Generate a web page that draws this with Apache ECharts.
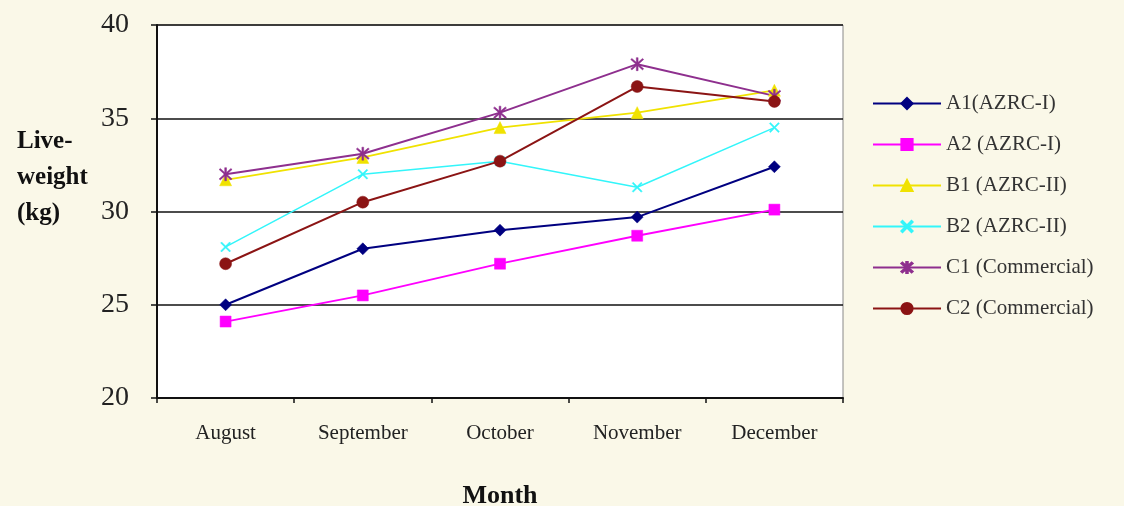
<!DOCTYPE html>
<html><head><meta charset="utf-8">
<script src="https://cdn.jsdelivr.net/npm/echarts@6/dist/echarts.min.js"></script>
<style>html,body{margin:0;padding:0;background:#faf8e8;}#c{width:1124px;height:506px;}</style>
</head><body><div id="c"></div>
<script>
const months = ['August','September','October','November','December'];
const yTicks = [20,25,30,35,40];
const seriesNames = ['A1(AZRC-I)','A2 (AZRC-I)','B1 (AZRC-II)','B2 (AZRC-II)','C1 (Commercial)','C2 (Commercial)'];
const A1 = [25.0, 28.0, 29.0, 29.7, 32.4];
const A2 = [24.1, 25.5, 27.2, 28.7, 30.1];
const B1 = [31.7, 32.9, 34.5, 35.3, 36.5];
const B2 = [28.1, 32.0, 32.7, 31.3, 34.5];
const C1 = [32.0, 33.1, 35.3, 37.9, 36.2];
const C2 = [27.2, 30.5, 32.7, 36.7, 35.9];

const serif = '"Liberation Serif","Times New Roman",serif';
const xPath = 'path://M1,0 L5,4 L9,0 L10,1 L6,5 L10,9 L9,10 L5,6 L1,10 L0,9 L4,5 L0,1 Z';
const starPath = 'path://M4.4,0 L5.6,0 L5.6,3.6 L8.6,0.6 L9.4,1.4 L6.2,4.6 L6.2,5.4 L9.4,8.6 L8.6,9.4 L5.6,6.4 L5.6,10 L4.4,10 L4.4,6.4 L1.4,9.4 L0.6,8.6 L3.8,5.4 L3.8,4.6 L0.6,1.4 L1.4,0.6 L4.4,3.6 Z';

const defs = [
  {data:A1, color:'#000080', symbol:'diamond', size:12, width:2},
  {data:A2, color:'#ff00ff', symbol:'rect', size:11, width:1.8},
  {data:B1, color:'#f0e200', symbol:'triangle', size:12, width:1.8},
  {data:B2, color:'#33f5fa', symbol:xPath, size:10, width:1.5},
  {data:C1, color:'#8e2f8e', symbol:starPath, size:13, width:2},
  {data:C2, color:'#8b1414', symbol:'circle', size:12, width:2}
];

const chart = echarts.init(document.getElementById('c'));
chart.setOption({
  backgroundColor:'#faf8e8',
  animation:false,
  grid:{left:157, top:25, width:686, height:373, containLabel:false, outerBoundsMode:'none',
    show:true, backgroundColor:'#ffffff', borderColor:'#888', borderWidth:1},
  xAxis:{type:'category', data:months, boundaryGap:true,
    axisLine:{lineStyle:{color:'#111', width:2}},
    axisTick:{show:true, length:5, lineStyle:{color:'#111', width:1.5}},
    axisLabel:{color:'#222', fontFamily:serif, fontSize:21, margin:25},
    name:'Month', nameLocation:'middle', nameGap:85,
    nameTextStyle:{color:'#111', fontFamily:serif, fontSize:26, fontWeight:'bold'}
  },
  yAxis:{type:'value', min:yTicks[0], max:yTicks[yTicks.length-1], interval:5,
    axisLine:{show:true, lineStyle:{color:'#111', width:2}},
    axisTick:{show:true, length:6, lineStyle:{color:'#111', width:1.5}},
    axisLabel:{color:'#222', fontFamily:serif, fontSize:28, margin:28},
    splitLine:{lineStyle:{color:'#111', width:1.6}}
  },
  legend:{orient:'vertical', left:872, top:93, padding:0, itemWidth:68, itemHeight:14, itemGap:20,
    textStyle:{color:'#333', fontFamily:serif, fontSize:21},
    data:seriesNames},
  graphic:[{type:'text', left:17, top:124, style:{text:'Live-\nweight\n(kg)', font:'bold 25px '+serif, fill:'#111', lineHeight:36}}],
  series: defs.map((d,i)=>({
    name:seriesNames[i], type:'line', data:d.data,
    symbol:d.symbol, symbolSize:d.size, showSymbol:true,
    lineStyle:{color:d.color, width:d.width},
    itemStyle:{color:d.color, borderColor:d.color, borderWidth:0.5},
    emphasis:{disabled:true}
  }))
});
</script></body></html>
